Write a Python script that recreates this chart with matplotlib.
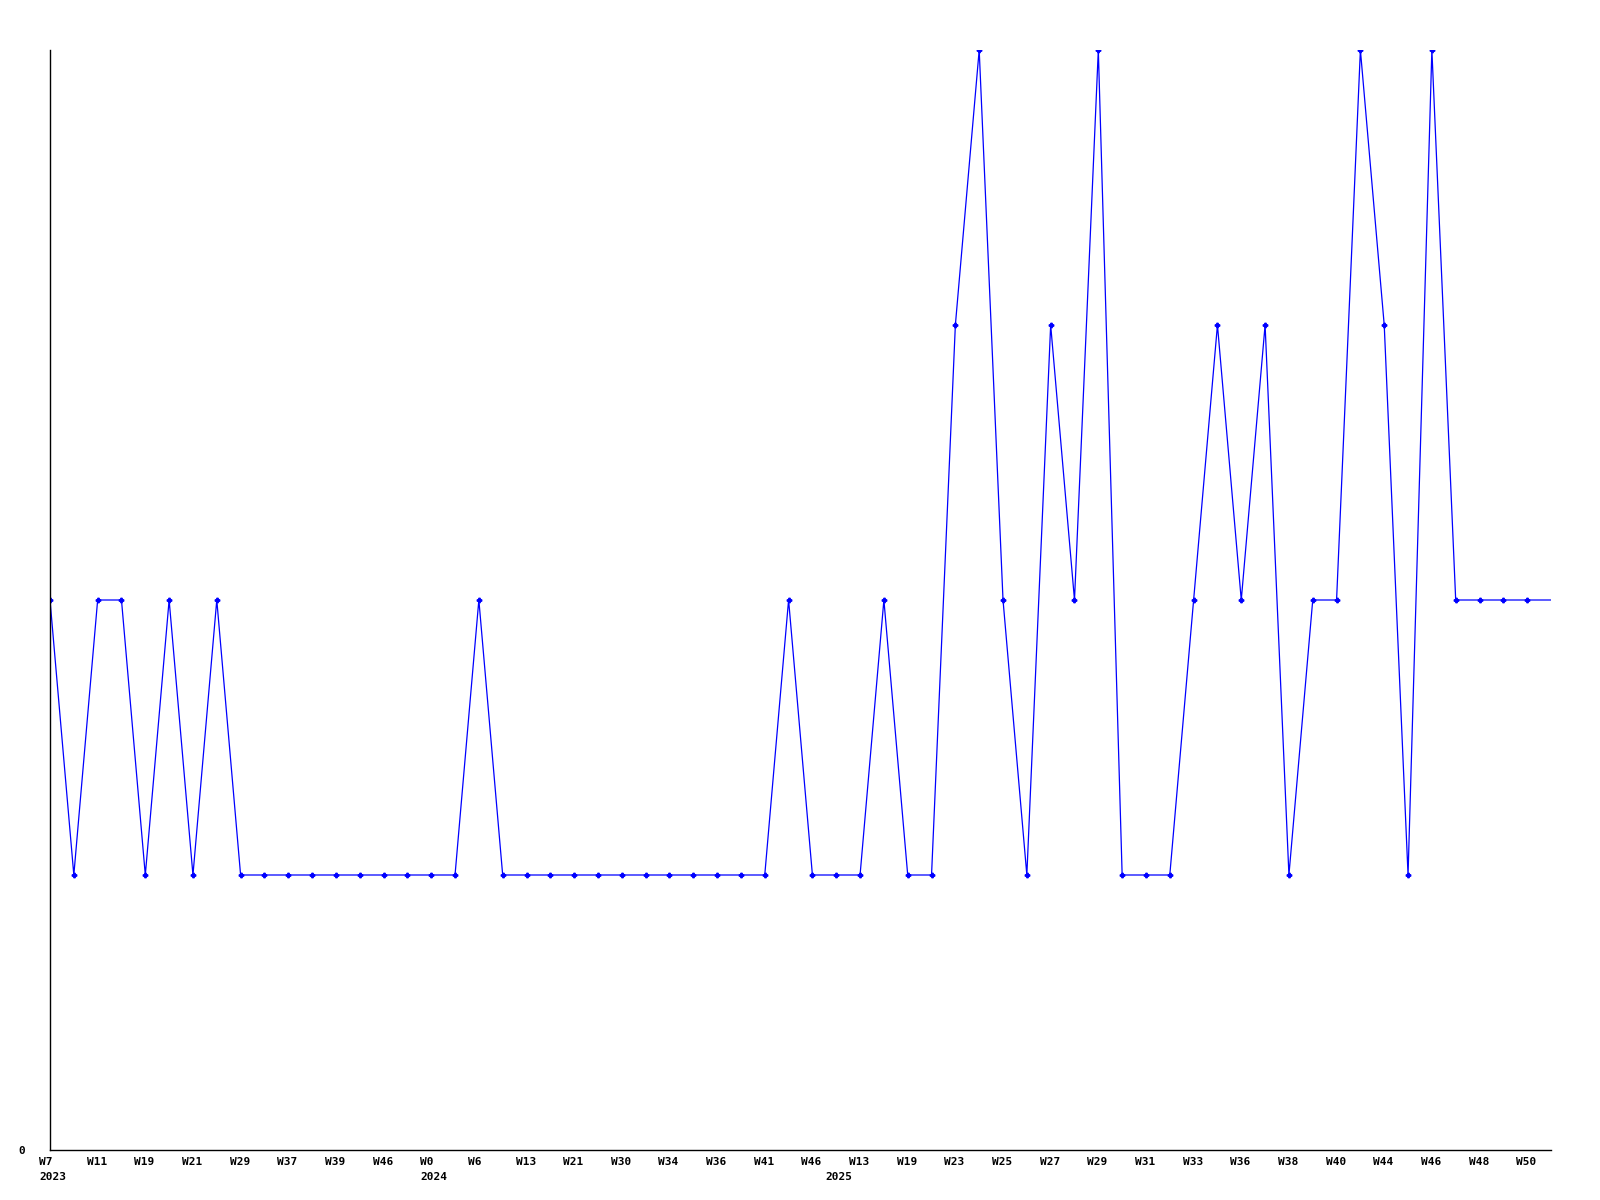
import matplotlib.pyplot as plt
import matplotlib.transforms as mtransforms

# weekly counts, one per point (last point only extends the line to the edge)
counts = [2, 1, 2, 2, 1, 2, 1, 2, 1, 1, 1, 1, 1, 1, 1, 1,
          1, 1, 2, 1, 1, 1, 1, 1, 1, 1, 1, 1, 1, 1, 1, 2,
          1, 1, 1, 2, 1, 1, 3, 4, 2, 1, 3, 2, 4, 1, 1, 1,
          2, 3, 2, 3, 1, 2, 2, 4, 3, 1, 4, 2, 2, 2, 2, 2]

# labels shown on every other point
week_labels = ["W7", "W11", "W19", "W21", "W29", "W37", "W39", "W46",
               "W0", "W6", "W13", "W21", "W30", "W34", "W36", "W41",
               "W46", "W13", "W19", "W23", "W25", "W27", "W29", "W31",
               "W33", "W36", "W38", "W40", "W44", "W46", "W48", "W50"]
year_starts = {0: "2023", 16: "2024", 33: "2025"}

font = dict(family="DejaVu Sans Mono", weight="bold", size=8)

fig = plt.figure(figsize=(16, 12), dpi=100)
ax = fig.add_axes([50 / 1600, 50 / 1200, 1501 / 1600, 1100 / 1200])

x = list(range(len(counts)))
ax.plot(x, counts, color="#0000ff", linewidth=0.9, marker="P",
        markersize=3.2, markevery=list(range(len(counts) - 1)))

ax.set_xlim(0, len(counts) - 1)
ax.set_ylim(0, 4)

# x labels drawn as text, left edge a little left of the point
base = ax.get_xaxis_transform()
week_tr = mtransforms.offset_copy(base, fig=fig, x=-11, y=-7, units="dots")
year_tr = mtransforms.offset_copy(base, fig=fig, x=-11, y=-22, units="dots")
for i, lab in enumerate(week_labels):
    ax.text(2 * i, 0, lab, transform=week_tr, ha="left", va="top",
            clip_on=False, **font)
for i, yr in year_starts.items():
    ax.text(i, 0, yr, transform=year_tr, ha="left", va="top",
            clip_on=False, **font)
ax.set_xticks([])

ax.set_yticks([0])
ax.set_yticklabels(["0"], **font)
ax.tick_params(axis="y", length=0, pad=18)

for side in ("top", "right"):
    ax.spines[side].set_visible(False)
for side in ("left", "bottom"):
    ax.spines[side].set_linewidth(1.0)
    ax.spines[side].set_color("black")

fig.savefig("out.png", dpi=100)
